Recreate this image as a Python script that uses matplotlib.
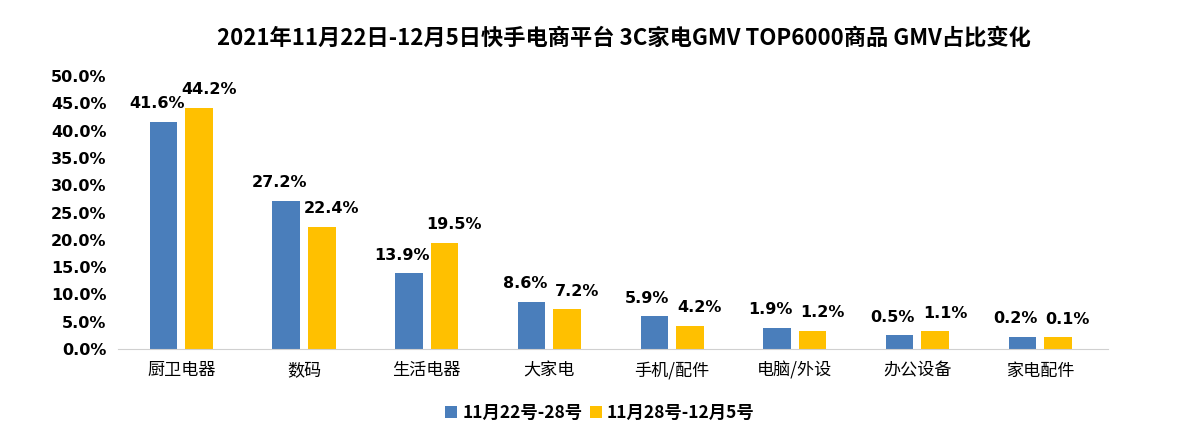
import numpy as np
import matplotlib
matplotlib.use("Agg")
import matplotlib.pyplot as plt

plt.rcParams['font.family'] = ['Noto Sans CJK SC', 'DejaVu Sans']

# Data
categories = ["厨卫电器", "数码", "生活电器", "大家电", "手机/配件", "电脑/外设", "办公设备", "家电配件"]
series_names = ["11月22号-28号", "11月28号-12月5号"]
# bar heights as drawn in the picture (%)
week1_bars = [41.6, 27.2, 13.9, 8.6, 6.0, 3.9, 2.5, 2.2]
week2_bars = [44.2, 22.4, 19.5, 7.3, 4.2, 3.3, 3.2, 2.1]
# data labels as printed in the picture
week1_labels = ["41.6%", "27.2%", "13.9%", "8.6%", "5.9%", "1.9%", "0.5%", "0.2%"]
week2_labels = ["44.2%", "22.4%", "19.5%", "7.2%", "4.2%", "1.2%", "1.1%", "0.1%"]

blue = "#4A7EBB"
yellow = "#FFC000"

fig = plt.figure(figsize=(12, 4.4), dpi=100)
ax = fig.add_axes([0.098, 0.207, 0.825, 0.62])

x = np.arange(len(categories))
w = 0.225
off = 0.145
b1 = ax.bar(x - off, week1_bars, w, color=blue, label=series_names[0])
b2 = ax.bar(x + off, week2_bars, w, color=yellow, label=series_names[1])

num_font = ['DejaVu Sans', 'Noto Sans CJK SC']
for rect, txt in zip(b1, week1_labels):
    ax.annotate(txt, (rect.get_x() + rect.get_width() / 2, rect.get_height()),
                xytext=(-5, 13), textcoords="offset points", ha="center", va="center",
                fontsize=11.5, fontweight="bold", family=num_font)
for rect, txt in zip(b2, week2_labels):
    ax.annotate(txt, (rect.get_x() + rect.get_width() / 2, rect.get_height()),
                xytext=(7, 13), textcoords="offset points", ha="center", va="center",
                fontsize=11.5, fontweight="bold", family=num_font)

ax.set_xlim(-0.52, len(categories) - 0.45)
ax.set_ylim(0, 50)
ax.set_yticks(np.arange(0, 51, 5))
ax.set_yticklabels([f"{v:.1f}%" for v in np.arange(0, 51, 5)],
                   fontsize=11.5, fontweight="bold", family=num_font)
ax.set_xticks(x)
ax.set_xticklabels(categories, fontsize=12.3)
ax.tick_params(axis="both", length=0)
ax.tick_params(axis="x", pad=9)
ax.tick_params(axis="y", pad=8)

for s in ["top", "right", "left"]:
    ax.spines[s].set_visible(False)
ax.spines["bottom"].set_color("#D0D0D0")

fig.suptitle("2021年11月22日-12月5日快手电商平台 3C家电GMV TOP6000商品 GMV占比变化",
             x=0.52, y=0.94, fontsize=16, fontweight="bold")

fig.legend(loc="center", bbox_to_anchor=(0.5, 0.062), ncol=2, frameon=False,
           prop={"weight": "bold", "size": 12.5}, handlelength=0.7, handleheight=0.7,
           handletextpad=0.3, columnspacing=0.4)

fig.savefig("out.png", dpi=100)
